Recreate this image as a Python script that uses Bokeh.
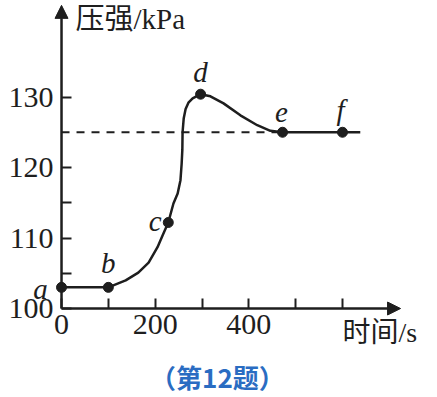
from bokeh.plotting import figure
from bokeh.models import Range1d, FixedTicker, Arrow, NormalHead, Label, ColumnDataSource
from bokeh.core.properties import value
from bokeh.embed import file_html
from bokeh.resources import INLINE

# ---- data ----
curve_t = [0, 100, 137, 164, 186, 205, 216, 228, 239, 248, 254, 256.5, 258, 258.5, 261, 265,
           271, 280, 297, 318, 346, 382, 418, 446, 472, 600, 638]
curve_p = [103.0, 103.0, 104.0, 105.1, 106.5, 108.7, 110.4, 112.2, 114.9, 116.3, 118.2, 120.5,
           122.5, 125.0, 127.0, 128.3, 129.2, 129.8, 130.4, 130.1, 129.1, 127.4, 126.0, 125.2,
           125.0, 125.0, 125.0]
point_names = ["a", "b", "c", "d", "e", "f"]
point_t = [0, 100, 228, 297, 472, 600]
point_p = [103.0, 103.0, 112.2, 130.4, 125.0, 125.0]
steady_p = 125.0
x_ticks = [0, 100, 200, 300, 400, 500, 600]
x_tick_labels = {0: "0", 100: "", 200: "200", 300: "", 400: "400", 500: "", 600: ""}
y_ticks = [100, 105, 110, 115, 120, 130]
y_tick_labels = {100: "100", 105: "", 110: "110", 115: "", 120: "120", 130: "130"}
y_title = "压强/kPa"
x_title = "时间/s"
caption = "（第12题）"

# label offsets (screen px, down positive) for the point letters
label_dx = [-21, 0, -13, 0, -1, -2]
label_dy = [2, -24, -2, -22, -20, -22]

ink = "#1e1e1e"
serif = "Liberation Serif"
mixed = "Liberation Serif, Noto Sans CJK SC"

p = figure(width=437, height=397, output_backend="svg", toolbar_location=None,
           x_range=Range1d(-130.3, 802.9), y_range=Range1d(87.38, 143.69),
           min_border_left=0, min_border_right=0, min_border_top=0, min_border_bottom=0)
p.outline_line_color = None
p.xgrid.visible = False
p.ygrid.visible = False
p.background_fill_color = "white"
p.border_fill_color = "white"

p.xaxis[0].fixed_location = 100
p.yaxis[0].fixed_location = 0
for ax, ticks, labels in ((p.xaxis[0], x_ticks, x_tick_labels), (p.yaxis[0], y_ticks, y_tick_labels)):
    ax.ticker = FixedTicker(ticks=ticks)
    ax.major_label_overrides = labels
    ax.minor_tick_line_color = None
    ax.axis_line_color = None
    ax.major_tick_in = 10
    ax.major_tick_out = 0
    ax.major_tick_line_width = 2
    ax.major_tick_line_color = ink
    ax.major_label_text_font = serif
    ax.major_label_text_font_size = "30px"
    ax.major_label_text_color = ink
p.xaxis[0].major_label_standoff = 6
p.yaxis[0].major_label_standoff = 8

# axes with arrows
p.add_layout(Arrow(end=NormalHead(size=13, fill_color=ink, line_color=ink),
                   x_start=0, y_start=100, x_end=724, y_end=100,
                   line_width=2.5, line_color=ink))
p.add_layout(Arrow(end=NormalHead(size=13, fill_color=ink, line_color=ink),
                   x_start=0, y_start=100, x_end=0, y_end=143.0,
                   line_width=2.5, line_color=ink))

# dashed steady line
p.line([0, point_t[4]], [steady_p, steady_p], line_dash="8 7", line_width=2, line_color=ink)

# curve
p.line(curve_t, curve_p, line_width=2.5, line_color=ink)

src = ColumnDataSource(dict(t=point_t, p=point_p, name=point_names, dx=label_dx, dy=label_dy))
p.scatter("t", "p", source=src, size=10, color=ink)
p.text("t", "p", text="name", source=src, x_offset="dx", y_offset="dy",
       text_align="center", text_baseline="middle",
       text_font=value(serif), text_font_style="italic", text_font_size="29px", text_color=ink)

p.add_layout(Label(x=30, y=141, text=y_title, text_baseline="middle",
                   text_font=mixed, text_font_size="29px", text_color=ink))
p.add_layout(Label(x=600, y=96.6, text=x_title, text_baseline="middle",
                   text_font=mixed, text_font_size="28px", text_color=ink))
p.add_layout(Label(x=333, y=90.3, text=caption, text_align="center", text_baseline="middle",
                   text_font="Noto Sans CJK SC", text_font_style="bold", text_font_size="26px",
                   text_color="#2a6cc2"))

open("out.html", "w").write(file_html(p, INLINE))
